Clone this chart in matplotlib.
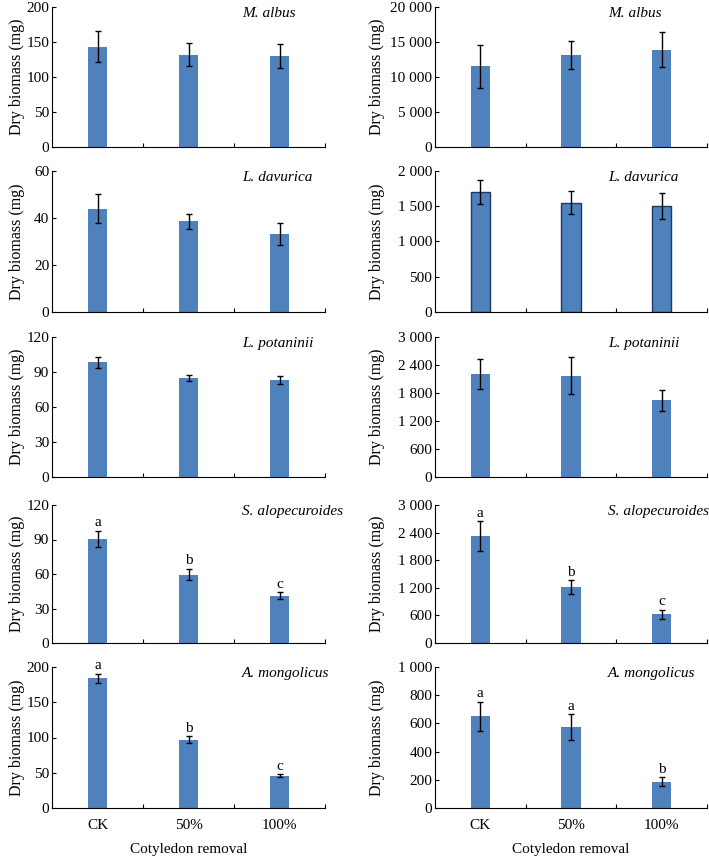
import matplotlib
matplotlib.use("Agg")
import matplotlib.pyplot as plt
from matplotlib.ticker import FuncFormatter

plt.rcParams['font.family'] = ['Liberation Serif', 'DejaVu Serif']
plt.rcParams['font.size'] = 11

treatments = ["CK", "50%", "100%"]
species = ["M. albus", "L. davurica", "L. potaninii", "S. alopecuroides", "A. mongolicus"]

# left column (mg)
left_mean = [[143, 132, 130], [44, 38.6, 33.3], [98.4, 85, 83], [90.5, 59.5, 41], [184, 97, 46]]
left_err = [[22, 16, 17], [6, 3.3, 4.6], [4.8, 2.5, 3.2], [7, 5, 3], [6.5, 5, 2]]
left_ymax = [200, 60, 120, 120, 200]
left_ystep = [50, 20, 30, 30, 50]
left_letters = [None, None, None, ["a", "b", "c"], ["a", "b", "c"]]

# right column (mg)
right_mean = [[11550, 13200, 13900], [1700, 1550, 1505], [2210, 2175, 1645], [2320, 1220, 620], [650, 572, 187]]
right_err = [[3050, 2000, 2500], [175, 165, 185], [325, 400, 225], [330, 145, 100], [103, 93, 30]]
right_ymax = [20000, 2000, 3000, 3000, 1000]
right_ystep = [5000, 500, 600, 600, 200]
right_letters = [None, None, None, ["a", "b", "c"], ["a", "a", "b"]]

W, H = 709, 856
fig = plt.figure(figsize=(W / 100, H / 100), dpi=100)

rows_px = [(7, 147), (171, 312), (337, 477), (505, 643), (667, 808)]
cols_px = [(52, 325), (435, 707)]
bar_color = "#4F81BD"


def fmt(v, pos):
    s = "{:,}".format(int(round(v)))
    return s.replace(",", " ")


def draw_panel(ax, means, errs, ymax, ystep, name, letters, last, edged):
    x = range(len(means))
    ax.bar(x, means, width=0.21, color=bar_color,
           edgecolor="#1F3864" if edged else bar_color, linewidth=1.0 if edged else 0)
    ax.errorbar(x, means, yerr=errs, fmt="none", ecolor="black", elinewidth=1,
                capsize=2.5, capthick=1)
    ax.set_xlim(-0.5, 2.5)
    ax.set_ylim(0, ymax)
    ax.set_yticks([i * ystep for i in range(int(round(ymax / ystep)) + 1)])
    ax.yaxis.set_major_formatter(FuncFormatter(fmt))
    ax.set_xticks([0.5, 1.5, 2.5])
    ax.set_xticklabels([])
    ax.set_xticks([0, 1, 2], minor=True)
    if last:
        ax.set_xticklabels(treatments, minor=True)
        ax.set_xlabel("Cotyledon removal", labelpad=8)
    ax.tick_params(axis="x", which="minor", length=0, pad=8)
    ax.tick_params(axis="x", which="major", direction="in", length=3)
    ax.tick_params(axis="y", direction="in", length=3, pad=2)
    for s in ["top", "right"]:
        ax.spines[s].set_visible(False)
    ax.set_ylabel("Dry biomass (mg)", fontsize=11.5)
    ax.text(0.0, 0.955, name, transform=ax.transAxes, style="italic",
            ha="left", va="center")
    if letters:
        for i, lab in enumerate(letters):
            ax.annotate(lab, (i, means[i] + errs[i]), xytext=(0, 1),
                        textcoords="offset points", ha="center", va="bottom")


for r, (top, bot) in enumerate(rows_px):
    for c, (l, rgt) in enumerate(cols_px):
        ax = fig.add_axes([l / W, 1 - bot / H, (rgt - l) / W, (bot - top) / H])
        if c == 0:
            draw_panel(ax, left_mean[r], left_err[r], left_ymax[r], left_ystep[r],
                       species[r], left_letters[r], r == 4, False)
            ax.texts[0].set_x(0.695)
            ax.yaxis.set_label_coords(-0.1, 0.5)
        else:
            draw_panel(ax, right_mean[r], right_err[r], right_ymax[r], right_ystep[r],
                       species[r], right_letters[r], r == 4, r == 1)
            ax.texts[0].set_x(0.636)
            ax.yaxis.set_label_coords(-0.185, 0.5)

fig.savefig("out.png", dpi=100)
